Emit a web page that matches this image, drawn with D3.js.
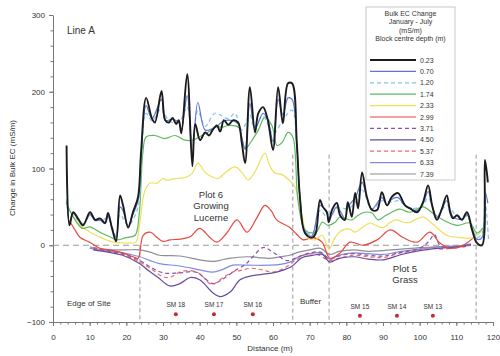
<!DOCTYPE html>
<html>
<head>
<meta charset="utf-8">
<script src="https://cdn.jsdelivr.net/npm/d3@7"></script>
<style>
  body { margin: 0; background: #fff; }
  svg { font-family: "Liberation Sans", Arial, sans-serif; }
  .axis text { font-size: 8px; fill: #333; }
  .axis path, .axis line { stroke: #777; }
</style>
</head>
<body>
<svg width="500" height="356"></svg>
<script>
// depth labels of the legend (m)
var depths = ["0.23", "0.70", "1.20", "1.74", "2.33", "2.99", "3.71", "4.50", "5.37", "6.33", "7.39"];

// [distance (m), change in bulk EC (mS/m)]
var ec023 = [[3.7,130],[4.5,26],[5.5,43],[6.8,35],[8.2,26],[10.1,43],[11.5,33],[12.8,35],[14.2,29],[15,42],[16.1,22],[17.2,5],[18.3,65],[19.1,52],[20.5,23],[21.8,43],[23.2,63],[24,120],[25.4,192],[27,165],[27.8,160],[29.6,201],[30.6,163],[31.6,160],[32.6,166],[33.6,158],[34.3,163],[35,146],[36.6,223],[38,103],[38.8,158],[40.1,137],[41.5,147],[42.6,143],[43.5,150],[44.7,156],[45.6,148],[46.6,163],[47.8,157],[49.2,163],[50.5,160],[51.5,133],[52.4,107],[53.7,206],[55.1,147],[56,172],[57.3,180],[58.6,163],[60,124],[61.4,206],[62.7,159],[64.1,211],[65.2,211],[66.5,133],[67.4,59],[68.7,16],[70.6,10],[71.6,15],[72.8,59],[73.6,50],[74.7,43],[75.2,30],[76.1,46],[77.4,55],[78.3,39],[79.6,33],[80.4,56],[81.5,37],[82.4,68],[83.2,48],[84.3,95],[85.6,63],[87,46],[88.4,46],[89.7,69],[91.1,52],[92.4,63],[94.1,68],[96,52],[97.4,48],[99.3,43],[100.9,56],[102.3,78],[103.4,52],[104.7,33],[106.1,48],[107.4,65],[108.3,43],[109.1,35],[110.2,39],[111.5,33],[112.9,43],[114.3,20],[115.6,3],[117,0],[117.8,111],[118.6,82]];
var ec070 = [[3.8,60],[4.5,30],[5.5,42],[6.8,34],[8.2,27],[10.1,40],[11.5,32],[12.8,33],[14.2,28],[15,38],[16.1,22],[17.2,10],[18.3,50],[19.1,45],[20.5,25],[21.8,40],[23.2,58],[24,110],[25.4,182],[27,165],[29.6,190],[30.6,163],[32.6,164],[34.3,160],[35,150],[36.6,195],[38,120],[39.5,186],[41.5,150],[43.5,152],[44.7,155],[46.6,162],[49.2,162],[50.5,158],[51.5,140],[52.4,125],[53.7,185],[55.1,152],[57.3,172],[58.6,163],[60,135],[61.4,190],[62.7,170],[64.1,192],[65.2,190],[66.5,130],[67.4,60],[68.7,18],[70.6,12],[72.8,52],[74.7,42],[75.2,32],[77.4,50],[79.6,35],[80.4,50],[82.4,62],[84.3,82],[85.6,62],[87,47],[89.7,62],[91.1,52],[92.4,60],[94.1,62],[96,52],[99.3,45],[100.9,54],[102.3,70],[103.4,52],[104.7,36],[107.4,58],[109.1,37],[111.5,34],[112.9,40],[114.3,22],[115.6,8],[117,10],[117.8,70],[118.6,55]];
var ec120 = [[3.8,50],[5.5,40],[8.2,28],[10.1,38],[12.8,32],[15,35],[17.2,12],[18.3,40],[20.5,26],[23.2,50],[24,100],[25.4,172],[27,162],[29.6,178],[31.6,162],[34.3,160],[36.6,180],[38,130],[39.5,175],[41.5,155],[44.2,172],[47.8,165],[49.6,172],[51.5,150],[53.7,170],[54.8,154],[57.3,168],[60,145],[62.7,163],[65.2,176],[66.5,125],[67.4,60],[68.7,20],[70.6,14],[72.8,45],[75.2,35],[77.4,48],[80.4,48],[82.4,55],[84.3,72],[87,47],[89.7,58],[92.4,56],[94.1,58],[97.4,48],[100.9,52],[102.3,62],[104.7,38],[107.4,52],[110.2,38],[112.9,38],[114.3,22],[115.6,10],[117,15],[117.8,60],[118.8,5]];
var ec174 = [[3.6,56],[5.5,37],[8,22],[10,24],[12.8,17],[15.5,11],[17.5,7],[20,10],[22.4,13],[23.5,40],[24.5,120],[25.4,141],[27.8,143],[30.5,139],[33.3,143],[36,137],[38.2,137],[40.6,143],[42.5,148],[44.2,154],[46.4,154],[47.7,156],[50.5,154],[52.4,126],[54.3,137],[56,150],[57.8,167],[59.7,156],[61.1,130],[62.5,134],[64.1,147],[65.4,141],[66.8,59],[68.7,20],[70.6,16],[72,18],[73.4,30],[75,26],[76.9,30],[78.3,37],[79.6,35],[81.5,33],[83.2,39],[85,43],[87,42],[88.6,33],[90.5,38],[92.4,43],[94.5,47],[97.4,43],[100.9,50],[103.5,42],[106.4,33],[110.2,26],[113.7,29],[115.6,16],[117.3,23]];
var ec233 = [[4,50],[5.5,38],[6.8,29],[10.1,17],[13.6,9],[16.4,4],[19,3],[21,3],[22.6,4],[23.7,30],[25,70],[26.5,81],[28.4,81],[30,87],[31,85],[33.8,87],[36.5,89],[38,94],[39.5,107],[41.5,95],[43,90],[45,87],[46.9,94],[49.6,102],[51.5,95],[53.2,85],[55,95],[57.8,120],[59,105],[60.5,94],[62.5,92],[65,82],[66,76],[68,37],[69.5,10],[71.4,7],[73.4,13],[75.3,-5],[76.9,10],[79,20],[81,21],[82.4,17],[84.3,23],[86.5,29],[88,26],[90,23],[92,30],[93.8,33],[95.5,30],[97.4,30],[99,34],[101,37],[102.5,32],[104,26],[107.4,13],[111,10],[114.5,10],[117.3,20]];
var ec299 = [[4.5,32],[6,20],[7.4,10],[10,4],[12.8,-4],[15.5,-6],[19,-10],[21.8,-15],[23.2,-17],[24.6,13],[26.5,17],[28.4,10],[30,5],[31.9,7],[34.6,8],[37.4,11],[40,22],[42.8,10],[44.7,4],[47.4,16],[50.2,33],[52.9,17],[55.5,35],[57.8,52],[59.5,45],[61,33],[64.6,23],[66.5,14],[68.2,7],[71,10],[73.4,4],[75.5,-17],[78.3,-10],[81,4],[84.5,0],[88.4,7],[92,20],[95.5,10],[99.3,4],[102.8,17],[105.5,3],[108.3,-4],[111.8,0],[114.5,9]];
var ec371 = [[11,-3],[15,-7],[19,-11],[23.7,-20],[26.5,-28],[30,-36],[34.6,-36],[39,-35],[43.6,-50],[46,-45],[50,-32],[52.5,-25],[54.5,-15],[57.3,-3],[60,-9],[63.8,-20],[67,-15],[70,-10],[73,-9],[75.5,-18],[78,-14],[82,-11],[86,-13],[90,-14],[95,-9],[100,-4],[102.5,5],[104,14],[105.5,0],[108,-4],[112,-2],[114,0]];
var ec450 = [[11,-6],[15,-9],[19,-13],[23.7,-24],[26,-33],[28.4,-41],[31.9,-53],[34.6,-50],[37.4,-42],[40,-45],[43.6,-62],[45.5,-67],[48.3,-61],[51,-45],[54,-40],[57,-38],[60,-36],[63,-32],[65,-28],[68,-16],[71,-13],[73.5,-12],[75.5,-22],[78,-17],[82,-15],[86,-18],[90,-19],[95,-12],[100,-7],[105,-4],[110,-2],[114,1]];
var ec537 = [[11,-5],[15,-8],[19,-12],[23.7,-22],[26.5,-30],[30,-41],[31.9,-42],[34.6,-35],[37.4,-33],[40,-37],[42.8,-50],[44,-50],[46.4,-42],[49,-35],[51,-33],[54,-30],[57,-32],[60,-35],[63,-30],[66,-20],[69,-12],[72,-12],[75.5,-20],[78,-17],[82,-13],[86,-15],[90,-16],[95,-10],[100,-6],[103,-3],[106,-5],[110,-3],[114,0]];
var ec633 = [[10,-4],[14,-7],[18,-9],[21,-12],[23.7,-15],[26.5,-20],[29,-24],[34.6,-27],[40,-32],[43.6,-35],[46,-32],[49,-26],[53,-26],[59,-26],[62,-25],[64.6,-22],[67,-15],[70,-11],[73,-10],[75.5,-18],[78,-13],[82,-10],[86,-11],[90,-12],[95,-8],[100,-5],[105,-2],[110,-1],[114,2]];
var ec739 = [[10,-2],[12,-5],[16,-6],[20,-6],[23.7,-6],[26.5,-9],[29,-13],[34.6,-14],[40,-19],[44,-21],[48,-17],[53,-15],[56,-16],[59,-17],[62,-15],[64.6,-13],[67,-9],[70,-6],[73,-4],[75.5,-12],[78,-8],[82,-6],[86,-8],[90,-7],[95,-5],[100,-3],[105,-2],[110,-1],[114,0]];

// soil moisture sites
var smNames = ["SM 18", "SM 17", "SM 16", "SM 15", "SM 14", "SM 13"];
var smDist = [33.5, 43.9, 54.5, 83.7, 93.8, 103.6];
var smValue = [-90, -90, -90, -92, -92, -92];

// boundaries (m)
var edgeDist = 23.7;
var boundaryDist = [65.4, 75.3, 115.4];

var xTicks = [0, 10, 20, 30, 40, 50, 60, 70, 80, 90, 100, 110, 120];
var yTicks = [-100, 0, 100, 200, 300];

var series = [ec023, ec070, ec120, ec174, ec233, ec299, ec371, ec450, ec537, ec633, ec739];
var colors = ["#1c1c1c", "#5f74d2", "#7cc6e6", "#5cb860", "#efe05a", "#e8493e", "#8a52aa", "#654aa5", "#ef6a66", "#7f8ce2", "#8e8e98"];
var dashes = [null, null, "4,3", null, null, null, "4,3", null, "4,3", null, null];
var widths = [1.9, 1.2, 1.2, 1.2, 1.2, 1.2, 1.2, 1.2, 1.2, 1.2, 1.2];

var svg = d3.select("svg");

var x = d3.scaleLinear().domain([0, 120]).range([53, 493]);
var y = d3.scaleLinear().domain([-100, 300]).range([322, 15]);

// minor ticks
svg.append("g")
    .attr("class", "axis")
    .attr("transform", "translate(0,322)")
    .call(d3.axisBottom(x).tickValues(d3.range(0, 121, 2)).tickSize(2.5).tickFormat(""))
    .select(".domain").remove();
svg.append("g")
    .attr("class", "axis")
    .attr("transform", "translate(53,0)")
    .call(d3.axisLeft(y).tickValues(d3.range(-100, 301, 20)).tickSize(2.5).tickFormat(""))
    .select(".domain").remove();

svg.append("g")
    .attr("class", "axis")
    .attr("transform", "translate(0,322)")
    .call(d3.axisBottom(x).tickValues(xTicks).tickSizeInner(4).tickSizeOuter(0).tickPadding(8));

svg.append("g")
    .attr("class", "axis")
    .attr("transform", "translate(53,0)")
    .call(d3.axisLeft(y).tickValues(yTicks).tickSizeInner(4).tickSizeOuter(0).tickPadding(4));

svg.append("text")
    .attr("x", 270).attr("y", 351)
    .attr("text-anchor", "middle")
    .style("font-size", "8px").style("fill", "#333")
    .text("Distance (m)");

svg.append("text")
    .attr("transform", "translate(15,168) rotate(-90)")
    .attr("text-anchor", "middle")
    .style("font-size", "8px").style("fill", "#333")
    .text("Change in Bulk EC (mS/m)");

// reference lines
svg.append("line")
    .attr("x1", x(0)).attr("x2", x(117))
    .attr("y1", y(0)).attr("y2", y(0))
    .attr("stroke", "#999").attr("stroke-width", 1).attr("stroke-dasharray", "6,4");

svg.append("line")
    .attr("x1", x(edgeDist)).attr("x2", x(edgeDist))
    .attr("y1", y(0)).attr("y2", y(-100))
    .attr("stroke", "#999").attr("stroke-width", 1).attr("stroke-dasharray", "4,3");

svg.selectAll(".bound")
    .data(boundaryDist)
    .enter().append("line")
    .attr("x1", function (d) { return x(d); }).attr("x2", function (d) { return x(d); })
    .attr("y1", y(118)).attr("y2", y(-100))
    .attr("stroke", "#999").attr("stroke-width", 1).attr("stroke-dasharray", "4,3");

var line = d3.line()
    .x(function (d) { return x(d[0]); })
    .y(function (d) { return y(d[1]); })
    .curve(d3.curveCatmullRom.alpha(0.5));

// draw deepest first so the shallow lines sit on top
for (var i = series.length - 1; i >= 0; i--) {
    svg.append("path")
        .datum(series[i])
        .attr("d", line)
        .attr("fill", "none")
        .attr("stroke", colors[i])
        .attr("stroke-width", widths[i])
        .attr("stroke-dasharray", dashes[i])
        .attr("stroke-linejoin", "round");
}

// soil moisture sites
svg.selectAll(".sm")
    .data(smDist)
    .enter().append("circle")
    .attr("cx", function (d) { return x(d); })
    .attr("cy", function (d, i) { return y(smValue[i]); })
    .attr("r", 2)
    .attr("fill", "#c42a2e");

svg.selectAll(".smlabel")
    .data(smNames)
    .enter().append("text")
    .attr("x", function (d, i) { return x(smDist[i]); })
    .attr("y", function (d, i) { return y(smValue[i]) - 7; })
    .attr("text-anchor", "middle")
    .style("font-size", "6.5px").style("fill", "#333")
    .text(function (d) { return d; });

function label(lines, cx, cy, size, anchor) {
    var t = svg.append("text")
        .attr("text-anchor", anchor || "middle")
        .style("font-size", size + "px").style("fill", "#333");
    lines.forEach(function (s, k) {
        t.append("tspan").attr("x", cx).attr("y", cy + k * size * 1.2).text(s);
    });
}

label(["Line A"], 67, 34, 10, "start");
label(["Plot 6", "Growing", "Lucerne"], 211, 198, 9.5);
label(["Plot 5", "Grass"], 405, 272, 9.5);
label(["Edge of Site"], 67, 306, 8, "start");
label(["Buffer"], 300, 304, 8, "start");

// legend
var lg = svg.append("g");
lg.append("rect")
    .attr("x", 366).attr("y", 7).attr("width", 89).attr("height", 173)
    .attr("fill", "#fff").attr("stroke", "#bbb").attr("stroke-width", 0.8);
label(["Bulk EC Change", "January - July", "(mS/m)", "Block centre depth (m)"], 410.5, 16, 7);

depths.forEach(function (d, i) {
    var ly = 60 + i * 11.4;
    lg.append("line")
        .attr("x1", 370).attr("x2", 416)
        .attr("y1", ly).attr("y2", ly)
        .attr("stroke", colors[i])
        .attr("stroke-width", widths[i])
        .attr("stroke-dasharray", dashes[i]);
    lg.append("text")
        .attr("x", 420).attr("y", ly + 2.5)
        .style("font-size", "7px").style("fill", "#333")
        .text(d);
});
</script>
</body>
</html>
